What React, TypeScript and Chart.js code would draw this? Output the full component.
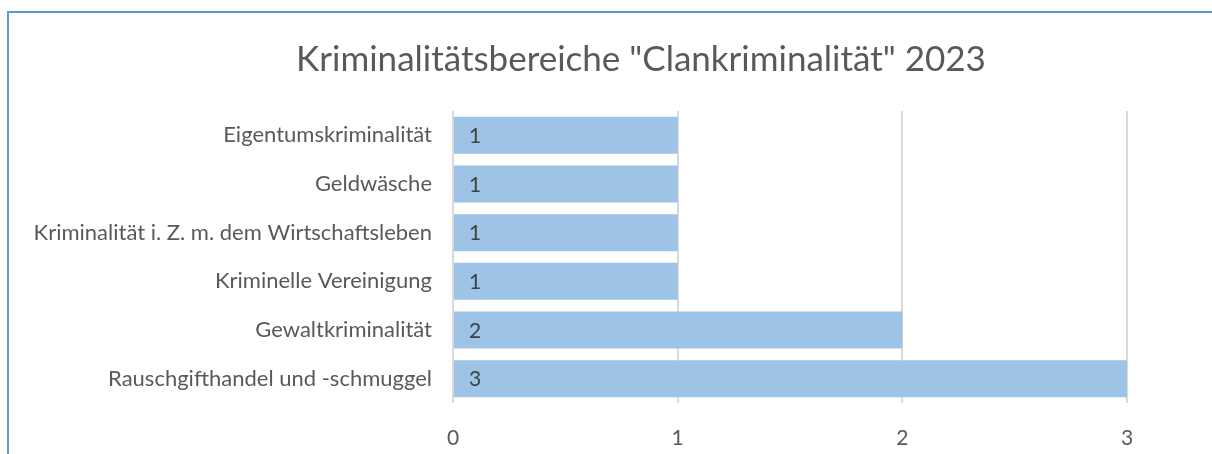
import React, { useEffect, useRef } from "react";
import { Chart, registerables } from "chart.js";

Chart.register(...registerables);

const TITLE = 'Kriminalitätsbereiche "Clankriminalität" 2023';
const categories = [
  "Eigentumskriminalität",
  "Geldwäsche",
  "Kriminalität i. Z. m. dem Wirtschaftsleben",
  "Kriminelle Vereinigung",
  "Gewaltkriminalität",
  "Rauschgifthandel und -schmuggel",
];
const values = [1, 1, 1, 1, 2, 3];
const xTicks = [0, 1, 2, 3];

const FONT = "Lato, 'Open Sans', sans-serif";

const labelPlugin = {
  id: "barLabels",
  afterDatasetsDraw(chart: any) {
    const ctx = chart.ctx;
    const meta = chart.getDatasetMeta(0);
    const xScale = chart.scales.x;
    ctx.save();
    ctx.fillStyle = "#404040";
    ctx.font = `21px ${FONT}`;
    ctx.textAlign = "left";
    ctx.textBaseline = "middle";
    meta.data.forEach((el: any, i: number) => {
      const base = xScale.getPixelForValue(0);
      ctx.fillText(String(values[i]), base + 16, el.y + 1);
    });
    ctx.restore();
  },
};

const titlePlugin = {
  id: "customTitle",
  afterDraw(chart: any) {
    const ctx = chart.ctx;
    ctx.save();
    ctx.fillStyle = "#595959";
    ctx.font = `35px ${FONT}`;
    ctx.textAlign = "center";
    ctx.textBaseline = "middle";
    ctx.fillText(TITLE, 641, 60);
    ctx.restore();
  },
};

export default function App() {
  const ref = useRef<HTMLCanvasElement | null>(null);
  useEffect(() => {
    if (!ref.current) return;
    const chart = new Chart(ref.current, {
      type: "bar",
      data: {
        labels: categories,
        datasets: [
          {
            data: values,
            backgroundColor: "#9DC3E6",
            borderWidth: 0,
            barPercentage: 0.76,
            categoryPercentage: 1,
          },
        ],
      },
      options: {
        indexAxis: "y",
        animation: false,
        responsive: false,
        maintainAspectRatio: false,
        layout: { padding: { left: 0, right: 85, top: 111, bottom: 0 } },
        plugins: {
          legend: { display: false },
          tooltip: { enabled: false },
          title: { display: false },
        },
        scales: {
          x: {
            min: 0,
            max: 3,
            afterBuildTicks(scale: any) {
              scale.ticks = xTicks.map((v) => ({ value: v }));
            },
            afterFit(scale: any) {
              scale.height = 51;
            },
            grid: { color: "#D9D9D9", lineWidth: 2, drawTicks: false },
            border: { display: false },
            ticks: {
              color: "#595959",
              font: { family: FONT, size: 21 },
              padding: 23,
            },
          },
          y: {
            afterFit(scale: any) {
              scale.width = 453;
            },
            grid: { display: false, drawTicks: false },
            border: { display: false },
            ticks: {
              color: "#595959",
              font: { family: FONT, size: 22 },
              padding: 21,
            },
          },
        },
      },
      plugins: [labelPlugin, titlePlugin],
    });
    return () => chart.destroy();
  }, []);
  return (
    <div style={{ position: "absolute", left: 0, top: 0, width: 1212, height: 454, background: "#fff" }}>
      <div
        style={{
          position: "absolute",
          left: 7,
          top: 11,
          width: 1205,
          height: 443,
          borderLeft: "2px solid #5B9BD5",
          borderTop: "2px solid #5B9BD5",
          boxSizing: "border-box",
        }}
      />
      <canvas ref={ref} width={1212} height={454} style={{ position: "absolute", left: 0, top: 0 }} />
    </div>
  );
}
